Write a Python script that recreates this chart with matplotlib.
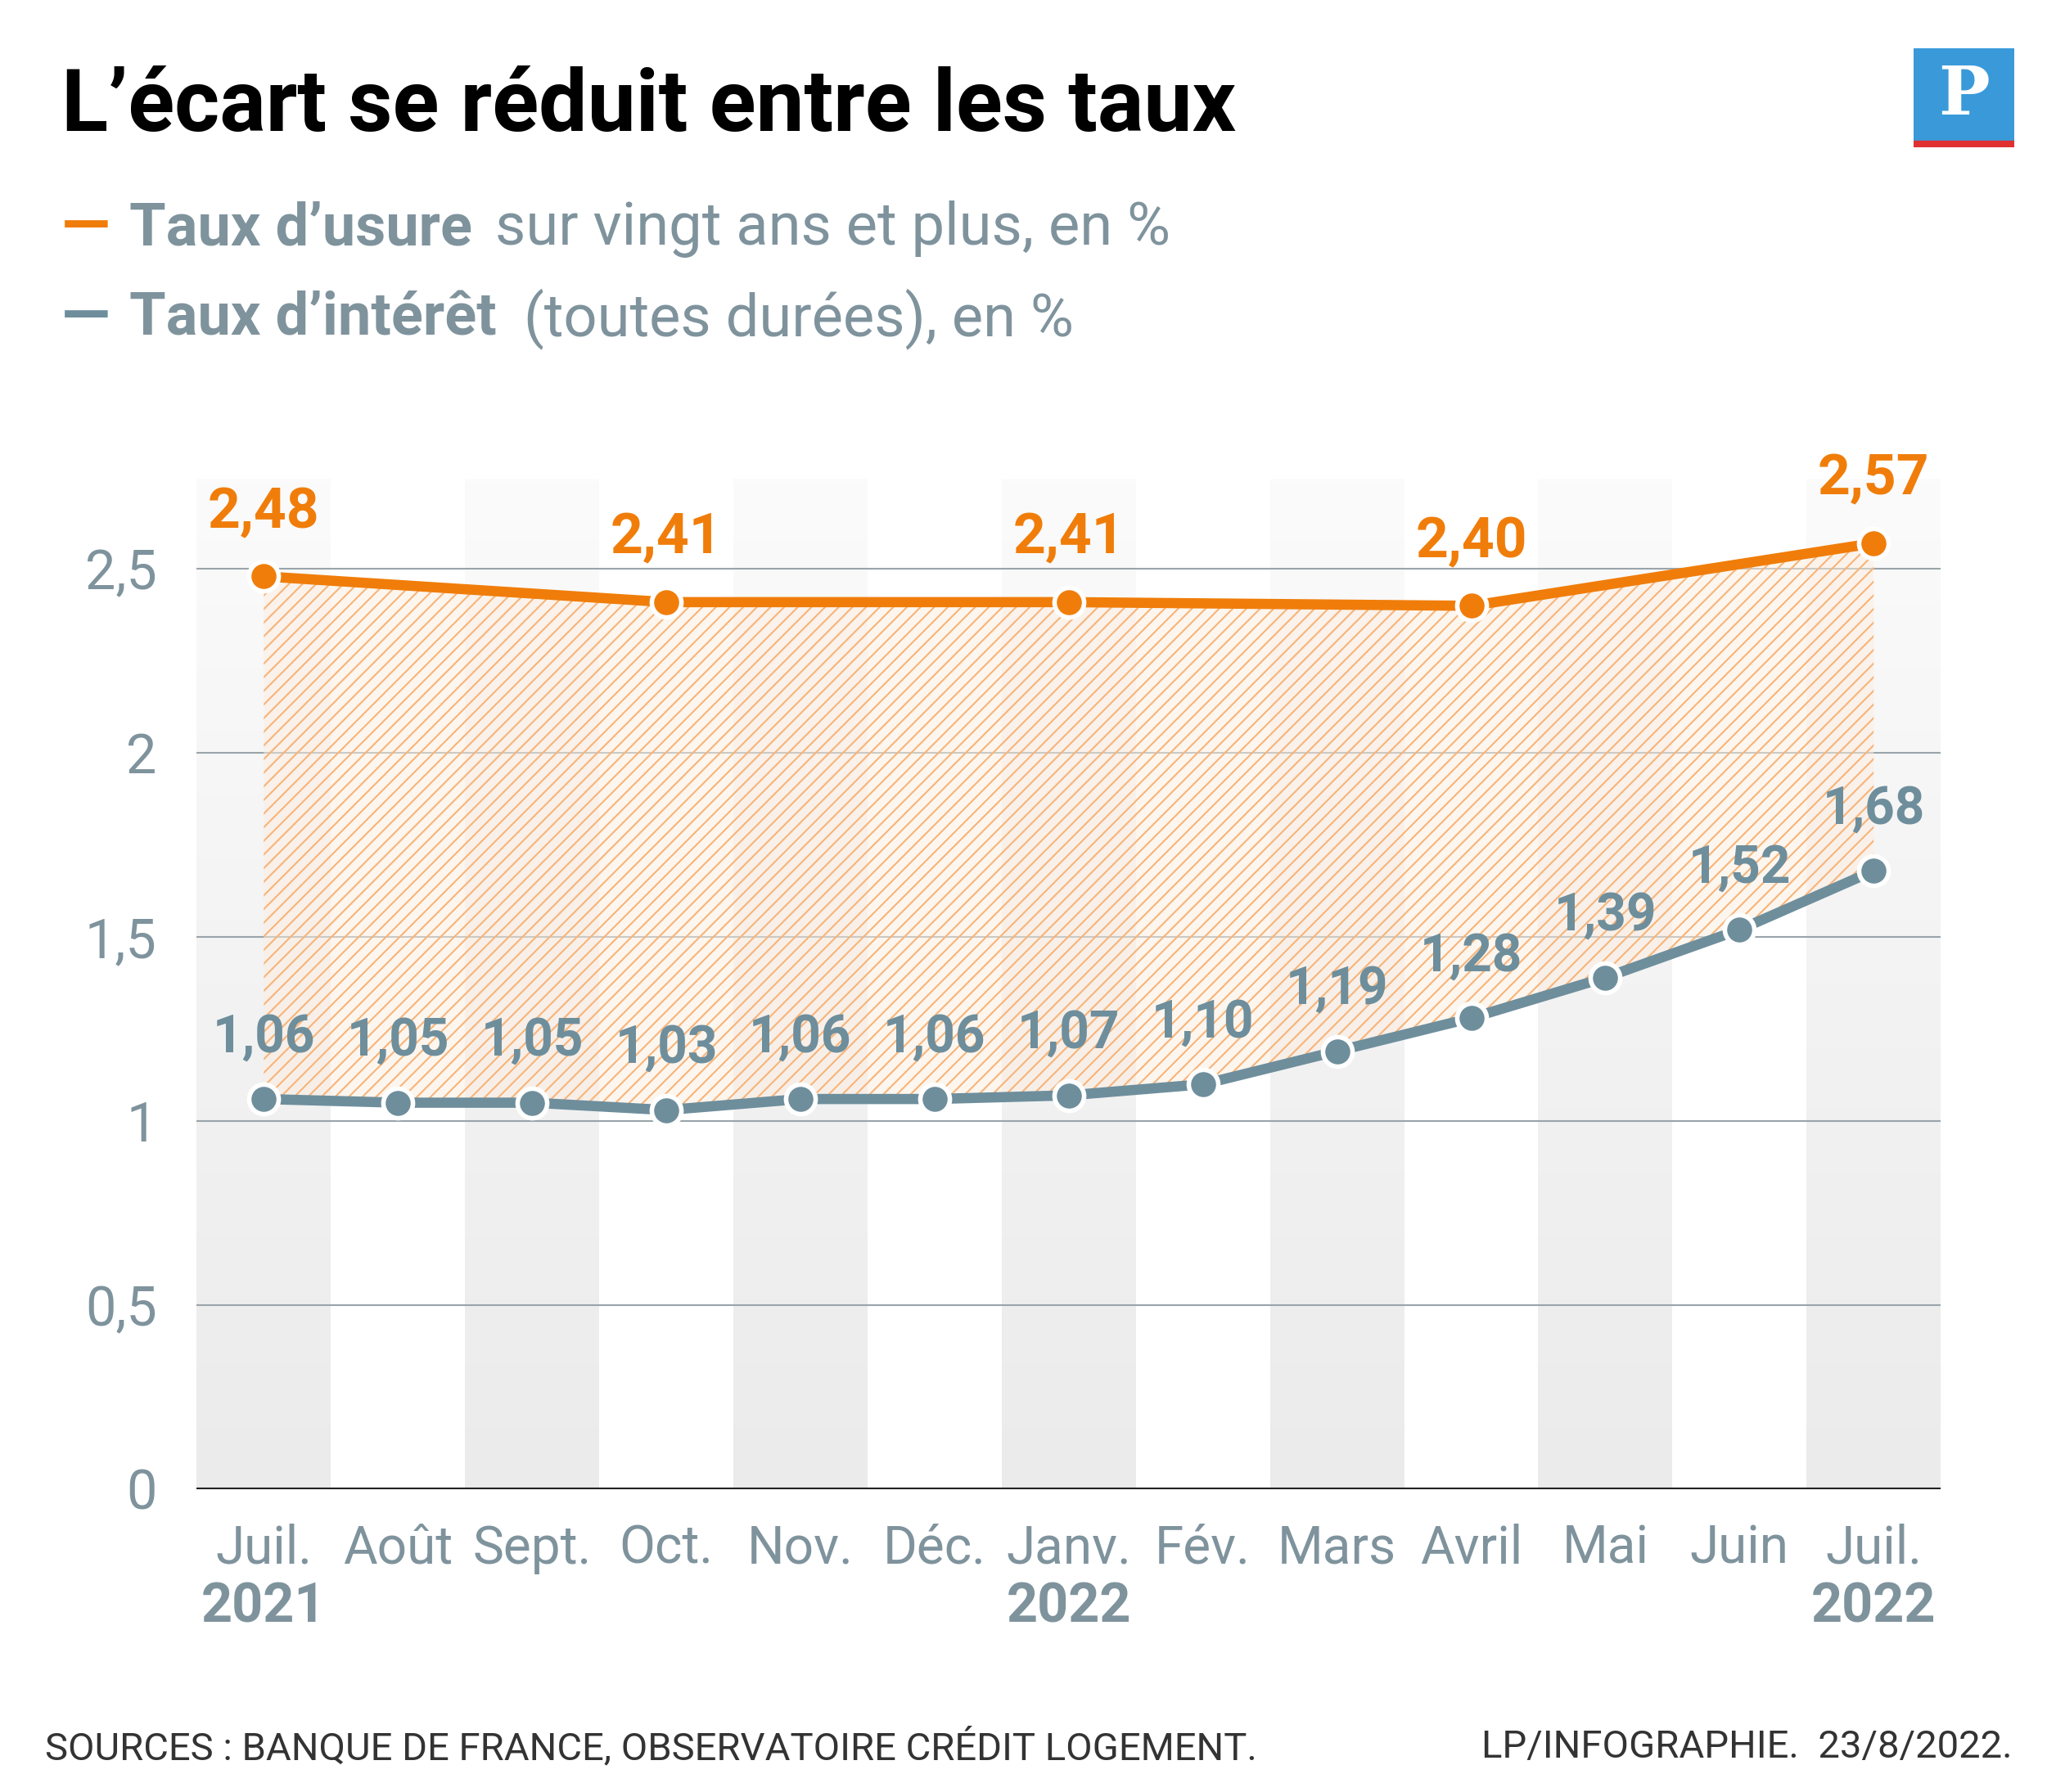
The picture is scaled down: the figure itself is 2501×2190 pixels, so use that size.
import matplotlib
matplotlib.use("Agg")
import matplotlib.pyplot as plt
import numpy as np

months = ["Juil.", "Août", "Sept.", "Oct.", "Nov.", "Déc.", "Janv.", "Fév.", "Mars", "Avril", "Mai", "Juin", "Juil."]
years = {0: "2021", 6: "2022", 12: "2022"}
interet = [1.06, 1.05, 1.05, 1.03, 1.06, 1.06, 1.07, 1.10, 1.19, 1.28, 1.39, 1.52, 1.68]
usure_x = [0, 3, 6, 9, 12]
usure = [2.48, 2.41, 2.41, 2.40, 2.57]
yticks = [0, 0.5, 1, 1.5, 2, 2.5]

ORANGE = "#f07d0a"
BLUE = "#6e8e9c"
GREY = "#7f939d"

plt.rcParams['font.family'] = ['Roboto', 'DejaVu Sans']
plt.rcParams['hatch.linewidth'] = 1.5

fig = plt.figure(figsize=(25.01, 21.9), dpi=100)
ax = fig.add_axes([0.0961, 0.169, 0.852, 0.564])
x = np.arange(len(months))
ymax = 2.746
ax.set_xlim(-0.5, 12.5)
ax.set_ylim(0, ymax)

# colonnes grisées en dégradé
grad = np.linspace(0, 1, 256).reshape(-1, 1)
cmap = matplotlib.colors.LinearSegmentedColormap.from_list("g", ["#ebebeb", "#fbfbfb"])
for i in range(0, 13, 2):
    ax.imshow(grad, extent=[i - 0.5, i + 0.5, 0, ymax], origin="lower", cmap=cmap,
              aspect="auto", zorder=0)
for yt in yticks[1:]:
    ax.axhline(yt, color="#9aa4aa", lw=1.5, zorder=1)
ax.axhline(0, color="#222222", lw=3, zorder=5)

usure_full = np.interp(x, usure_x, usure)
ax.fill_between(x, interet, usure_full, facecolor="#fdeedf", alpha=0.5, zorder=1.5, lw=0)
ax.fill_between(x, interet, usure_full, facecolor="none", edgecolor="#f7b47a",
                hatch="//", lw=0, zorder=1.6)

ax.plot(usure_x, usure, color=ORANGE, lw=9, zorder=3, solid_capstyle="round")
ax.plot(usure_x, usure, "o", ms=26, mfc=ORANGE, mec="white", mew=4, zorder=4)
ax.plot(x, interet, color=BLUE, lw=9, zorder=3)
ax.plot(x, interet, "o", ms=26, mfc=BLUE, mec="white", mew=4, zorder=4)

def fmt(v):
    return f"{v:.2f}".replace(".", ",")

for xi, v in zip(usure_x, usure):
    ax.text(xi, v + 0.1, fmt(v), color=ORANGE, fontsize=50, fontweight="bold",
            ha="center", va="bottom", zorder=6)
for xi, v in zip(x, interet):
    ax.text(xi, v + 0.1, fmt(v), color=BLUE, fontsize=46, fontweight="bold",
            ha="center", va="bottom", zorder=6)

ax.set_yticks(yticks)
ax.set_yticklabels([f"{t:g}".replace(".", ",") for t in yticks], fontsize=48, color=GREY)
ax.set_xticks(x)
ax.set_xticklabels(months, fontsize=46, color=GREY)
ax.tick_params(length=0, pad=30)
ax.tick_params(axis="y", pad=35)
for i, yr in years.items():
    ax.text(i, -0.25, yr, ha="center", va="top", fontsize=48, fontweight="bold", color=GREY)
for s in ax.spines.values():
    s.set_visible(False)

fig.text(0.03, 0.94, "L’écart se réduit entre les taux", fontsize=76, fontweight="bold",
         color="black", va="center")
fig.text(0.030, 0.872, "—", fontsize=56, color=ORANGE, fontweight="bold", va="center")
fig.text(0.063, 0.872, "Taux d’usure", fontsize=52, color=GREY, fontweight="bold", va="center")
fig.text(0.242, 0.872, "sur vingt ans et plus, en %", fontsize=52, color=GREY, va="center")
fig.text(0.030, 0.822, "—", fontsize=56, color=BLUE, fontweight="bold", va="center")
fig.text(0.063, 0.822, "Taux d’intérêt", fontsize=52, color=GREY, fontweight="bold", va="center")
fig.text(0.256, 0.822, "(toutes durées), en %", fontsize=52, color=GREY, va="center")

fig.text(0.022, 0.025, "SOURCES : BANQUE DE FRANCE, OBSERVATOIRE CRÉDIT LOGEMENT.", fontsize=34,
         color="#333333", va="center")
fig.text(0.983, 0.025, "LP/INFOGRAPHIE.  23/8/2022.", fontsize=34, color="#333333",
         va="center", ha="right")

# logo
lax = fig.add_axes([0.935, 0.918, 0.049, 0.055])
lax.set_xlim(0, 1); lax.set_ylim(0, 1); lax.axis("off")
lax.add_patch(plt.Rectangle((0, 0.07), 1, 0.93, color="#3a9ad9"))
lax.add_patch(plt.Rectangle((0, 0), 1, 0.06, color="#e03030"))
lax.text(0.5, 0.52, "P", color="white", fontsize=60, fontweight="bold", ha="center",
         va="center", family="DejaVu Serif")

fig.savefig("out.png", dpi=100)
